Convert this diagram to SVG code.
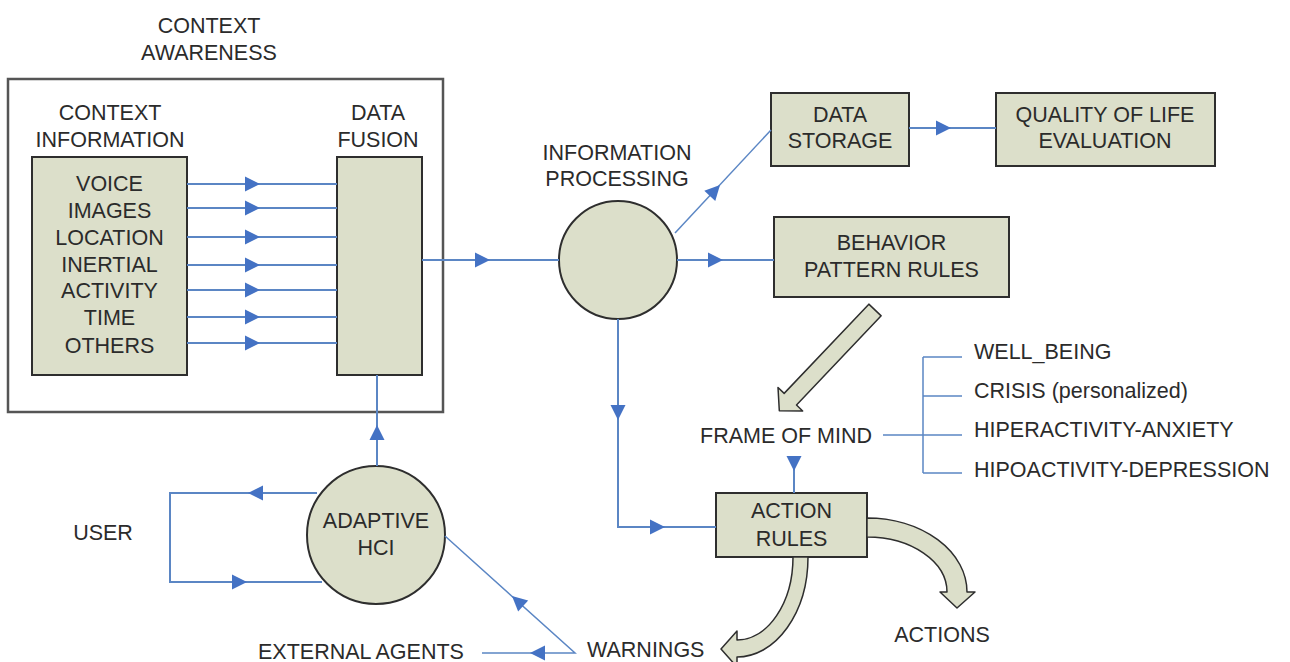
<svg xmlns="http://www.w3.org/2000/svg" xmlns:xlink="http://www.w3.org/1999/xlink" width="1290" height="662" viewBox="0 0 1290 662">
  <style>
    text { font-family: "Liberation Sans", Arial, sans-serif; font-size: 21.5px; fill: #2b2b2b; }
    .c { text-anchor: middle; }
    .box { fill: #dcdfca; stroke: #2e2e2e; stroke-width: 2; }
    .frame { fill: #ffffff; stroke: #555555; stroke-width: 2.5; }
    .ln { fill: none; stroke: #5b86c4; stroke-width: 2; }
    .thin { fill: none; stroke: #5b86c4; stroke-width: 1.5; }
    .head { fill: #4472c4; }
    .block { fill: #dcdfca; stroke: #2e2e2e; stroke-width: 1.5; stroke-linejoin: round; }
  </style>
  <defs>
    <!-- arrowhead pointing along +x, tip at origin -->
    <path id="ah" d="M0,0 L-15,-7.5 L-15,7.5 Z"/>
  </defs>

  <rect width="1290" height="662" fill="#ffffff"/>

  <!-- context awareness frame -->
  <g id="context-awareness">
    <rect class="frame" x="8" y="79" width="435" height="333"/>
    <text class="c" x="209" y="33">CONTEXT</text>
    <text class="c" x="209" y="60">AWARENESS</text>
  </g>

  <g id="context-information">
    <rect class="box" x="32" y="157" width="155" height="218"/>
    <text class="c" x="110" y="120">CONTEXT</text>
    <text class="c" x="110" y="147">INFORMATION</text>
    <text class="c" x="109.5" y="191">VOICE</text>
    <text class="c" x="109.5" y="218">IMAGES</text>
    <text class="c" x="109.5" y="245">LOCATION</text>
    <text class="c" x="109.5" y="272">INERTIAL</text>
    <text class="c" x="109.5" y="298">ACTIVITY</text>
    <text class="c" x="109.5" y="325">TIME</text>
    <text class="c" x="109.5" y="353">OTHERS</text>
  </g>

  <g id="data-fusion">
    <rect class="box" x="337" y="157" width="85" height="218"/>
    <text class="c" x="378" y="120">DATA</text>
    <text class="c" x="378" y="147">FUSION</text>
  </g>

  <g id="information-processing">
    <circle class="box" cx="618" cy="260" r="59"/>
    <text class="c" x="617" y="160">INFORMATION</text>
    <text class="c" x="617" y="186">PROCESSING</text>
  </g>

  <g id="data-storage">
    <rect class="box" x="771" y="93" width="138" height="73"/>
    <text class="c" x="840" y="122">DATA</text>
    <text class="c" x="840" y="148">STORAGE</text>
  </g>

  <g id="quality-of-life">
    <rect class="box" x="996" y="93" width="219" height="73"/>
    <text class="c" x="1105" y="122">QUALITY OF LIFE</text>
    <text class="c" x="1105" y="148">EVALUATION</text>
  </g>

  <g id="behavior-pattern-rules">
    <rect class="box" x="774" y="217" width="235" height="80"/>
    <text class="c" x="891.5" y="250">BEHAVIOR</text>
    <text class="c" x="891.5" y="277">PATTERN RULES</text>
  </g>

  <g id="frame-of-mind">
    <text class="c" x="786" y="443">FRAME OF MIND</text>
    <text x="974" y="359">WELL_BEING</text>
    <text x="974" y="398">CRISIS (personalized)</text>
    <text x="974" y="437">HIPERACTIVITY-ANXIETY</text>
    <text x="974" y="477">HIPOACTIVITY-DEPRESSION</text>
  </g>

  <g id="action-rules">
    <rect class="box" x="716" y="493" width="151" height="64"/>
    <text class="c" x="791.5" y="518">ACTION</text>
    <text class="c" x="791.5" y="546">RULES</text>
  </g>

  <g id="adaptive-hci">
    <circle class="box" cx="376" cy="535" r="69"/>
    <text class="c" x="376" y="528">ADAPTIVE</text>
    <text class="c" x="376" y="555">HCI</text>
  </g>

  <g id="labels">
    <text class="c" x="103" y="540">USER</text>
    <text x="258" y="659">EXTERNAL AGENTS</text>
    <text x="587" y="657">WARNINGS</text>
    <text class="c" x="942" y="642">ACTIONS</text>
  </g>

  <g id="connectors">
    <!-- context information to data fusion -->
    <path class="ln" d="M187,184 H337 M187,208 H337 M187,237 H337 M187,265 H337 M187,290 H337 M187,317 H337 M187,343 H337"/>
    <use href="#ah" class="head" transform="translate(260,184)"/>
    <use href="#ah" class="head" transform="translate(260,208)"/>
    <use href="#ah" class="head" transform="translate(260,237)"/>
    <use href="#ah" class="head" transform="translate(260,265)"/>
    <use href="#ah" class="head" transform="translate(260,290)"/>
    <use href="#ah" class="head" transform="translate(260,317)"/>
    <use href="#ah" class="head" transform="translate(260,343)"/>

    <!-- data fusion to information processing -->
    <path class="ln" d="M422,260 H559"/>
    <use href="#ah" class="head" transform="translate(490,260)"/>

    <!-- information processing to data storage -->
    <path class="thin" d="M675,233 L771,130"/>
    <use href="#ah" class="head" transform="translate(720,185) rotate(-47)"/>

    <!-- data storage to quality of life -->
    <path class="ln" d="M909,128 H996"/>
    <use href="#ah" class="head" transform="translate(951,128)"/>

    <!-- information processing to behavior pattern rules -->
    <path class="ln" d="M677,260 H774"/>
    <use href="#ah" class="head" transform="translate(723,260)"/>

    <!-- information processing to action rules -->
    <path class="ln" d="M618,319 V527 H716"/>
    <use href="#ah" class="head" transform="translate(618,420) rotate(90)"/>
    <use href="#ah" class="head" transform="translate(665,527)"/>

    <!-- frame of mind to action rules -->
    <path class="ln" d="M794,457 V493"/>
    <use href="#ah" class="head" transform="translate(794,471) rotate(90)"/>

    <!-- frame of mind branches -->
    <path class="thin" d="M883,435 H962 M923,357 V473 M923,357 H962 M923,396 H962 M923,473 H962"/>

    <!-- adaptive hci to data fusion -->
    <path class="ln" d="M377,466 V375"/>
    <use href="#ah" class="head" transform="translate(377,425) rotate(-90)"/>

    <!-- user loop -->
    <path class="ln" d="M317,493 H170 V582 H322"/>
    <use href="#ah" class="head" transform="translate(248,493) rotate(180)"/>
    <use href="#ah" class="head" transform="translate(247,582)"/>

    <!-- warnings to adaptive hci and external agents -->
    <path class="thin" d="M445,536 L575,653 H482"/>
    <use href="#ah" class="head" transform="translate(512,596) rotate(-138)"/>
    <use href="#ah" class="head" transform="translate(530,653) rotate(180)"/>

    <!-- block arrow: behavior pattern rules to frame of mind -->
    <path class="block" transform="translate(875,310) rotate(133.5)" d="M0,-8.5 L123,-8.5 L123,-17 L139,0 L123,17 L123,8.5 L0,8.5 Z"/>

    <!-- curved block arrow: action rules to actions -->
    <path class="block" d="M867,518 A100,74 0 0 1 967,592 L975,592 L957,608 L940,592 L947,592 A80,55 0 0 0 867,537 Z"/>

    <!-- curved block arrow: action rules to warnings -->
    <path class="block" d="M793,557 L808,557 A71,100 0 0 1 737,657 L737,667 L721,649 L737,631 L737,640 A56,83 0 0 0 793,557 Z"/>
  </g>
</svg>
